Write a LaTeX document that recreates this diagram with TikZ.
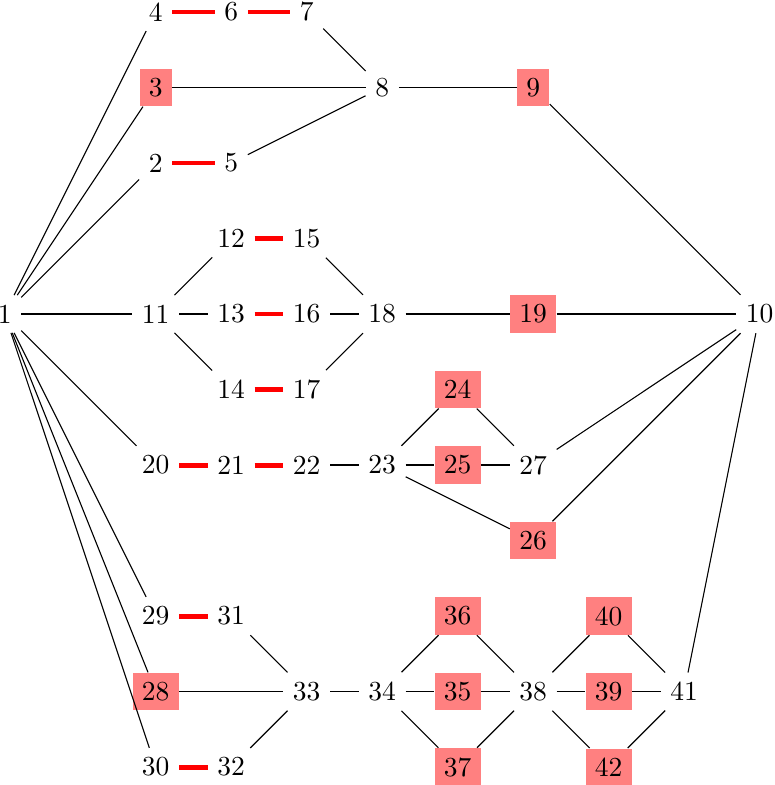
\documentclass[tikz,border=0pt]{standalone}
\begin{document}
\begin{tikzpicture}[x=27.45pt,y=-27.45pt,
  plain/.style={inner sep=3.33pt},
  hot/.style={inner sep=3.33pt,fill=red!50},
  link/.style={draw=black,line width=0.4pt},
  bond/.style={draw=red,line width=1.8pt}]
\useasboundingbox (-0.062,-0.159) rectangle (10.19,10.238);
% nodes
\node[plain] (n1) at (0,4) {1};
\node[plain] (n4) at (2,0) {4};
\node[plain] (n6) at (3,0) {6};
\node[plain] (n7) at (4,0) {7};
\node[hot] (n3) at (2,1) {3};
\node[plain] (n8) at (5,1) {8};
\node[hot] (n9) at (7,1) {9};
\node[plain] (n2) at (2,2) {2};
\node[plain] (n5) at (3,2) {5};
\node[plain] (n12) at (3,3) {12};
\node[plain] (n15) at (4,3) {15};
\node[plain] (n11) at (2,4) {11};
\node[plain] (n13) at (3,4) {13};
\node[plain] (n16) at (4,4) {16};
\node[plain] (n18) at (5,4) {18};
\node[hot] (n19) at (7,4) {19};
\node[plain] (n10) at (10,4) {10};
\node[plain] (n14) at (3,5) {14};
\node[plain] (n17) at (4,5) {17};
\node[hot] (n24) at (6,5) {24};
\node[plain] (n20) at (2,6) {20};
\node[plain] (n21) at (3,6) {21};
\node[plain] (n22) at (4,6) {22};
\node[plain] (n23) at (5,6) {23};
\node[hot] (n25) at (6,6) {25};
\node[plain] (n27) at (7,6) {27};
\node[hot] (n26) at (7,7) {26};
\node[plain] (n29) at (2,8) {29};
\node[plain] (n31) at (3,8) {31};
\node[hot] (n36) at (6,8) {36};
\node[hot] (n40) at (8,8) {40};
\node[hot] (n28) at (2,9) {28};
\node[plain] (n33) at (4,9) {33};
\node[plain] (n34) at (5,9) {34};
\node[hot] (n35) at (6,9) {35};
\node[plain] (n38) at (7,9) {38};
\node[hot] (n39) at (8,9) {39};
\node[plain] (n41) at (9,9) {41};
\node[plain] (n30) at (2,10) {30};
\node[plain] (n32) at (3,10) {32};
\node[hot] (n37) at (6,10) {37};
\node[hot] (n42) at (8,10) {42};
% thin links
\foreach \a/\b in {1/4,1/3,1/2,1/11,1/20,1/29,1/28,1/30,
  7/8,3/8,5/8,8/9,9/10,
  11/12,11/13,11/14,15/18,16/18,17/18,18/19,19/10,
  22/23,23/24,23/25,23/26,24/27,25/27,27/10,26/10,
  31/33,28/33,32/33,33/34,34/36,34/35,34/37,36/38,35/38,37/38,
  38/40,38/39,38/42,40/41,39/41,42/41,41/10}
  \draw[link] (n\a) -- (n\b);
% red bonds
\foreach \a/\b in {4/6,6/7,2/5,12/15,13/16,14/17,20/21,21/22,29/31,30/32}
  \draw[bond] (n\a) -- (n\b);
\end{tikzpicture}
\end{document}
